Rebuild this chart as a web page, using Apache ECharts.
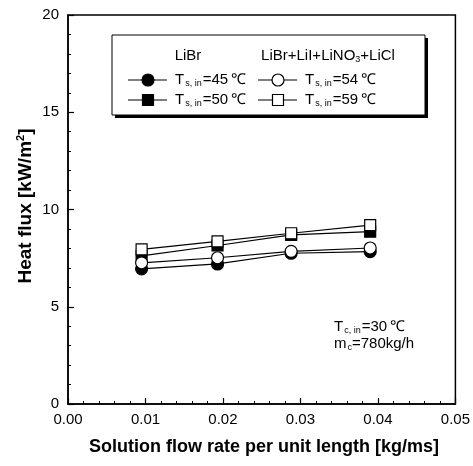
<!DOCTYPE html>
<html>
<head>
<meta charset="utf-8">
<script src="https://cdn.jsdelivr.net/npm/echarts@6/dist/echarts.min.js"></script>
<style>html,body{margin:0;padding:0;background:#fff}#c{width:473px;height:466px}</style>
</head>
<body>
<div id="c"></div>
<script>
const xValues = [0.0095, 0.0193, 0.0288, 0.039];
const libr45 = [6.95, 7.2, 7.75, 7.83];
const libr50 = [7.62, 8.15, 8.7, 8.86];
const mix54 = [7.26, 7.52, 7.85, 8.02];
const mix59 = [7.95, 8.36, 8.78, 9.2];
const xTicks = [0, 0.01, 0.02, 0.03, 0.04, 0.05];
const yTicks = [0, 5, 10, 15, 20];

const FONT = '"Liberation Sans", Arial, sans-serif';
const chart = echarts.init(document.getElementById('c'), null, {renderer: 'canvas'});

function pairs(ys){ return xValues.map((x,i)=>[x, ys[i]]); }

function mkSeries(name, ys, symbol, filled, size){
  return {
    name, type: 'line', data: pairs(ys), symbol, symbolSize: size,
    showSymbol: true, animation: false,
    lineStyle: {color: '#000', width: 1.2},
    itemStyle: {color: filled ? '#000' : '#fff', borderColor: '#000', borderWidth: 1.2, opacity: 1}
  };
}

const sub = {fontSize: 9, padding: [8,1,0,1], fontFamily: FONT, fill: '#000'};
const base = {fontSize: 15, fontFamily: FONT, fill: '#000'};
const Z = 20;

function legendRow(x, y, symbol, filled, label){
  const items = [
    {type: 'line', z: Z, shape: {x1: x-20, y1: y, x2: x+19, y2: y}, style: {stroke: '#000', lineWidth: 1.2}}
  ];
  if (symbol === 'circle') {
    items.push({type: 'circle', z: Z+1, shape: {cx: x, cy: y, r: 6}, style: {fill: filled ? '#000' : '#fff', stroke: '#000', lineWidth: 1.2}});
  } else {
    items.push({type: 'rect', z: Z+1, shape: {x: x-5.5, y: y-5.5, width: 11, height: 11}, style: {fill: filled ? '#000' : '#fff', stroke: '#000', lineWidth: 1.2}});
  }
  items.push({type: 'text', z: Z, x: x+27, y: y, style: {
    text: '{a|T}{s|s, in}{a|=' + label + '\u2009℃}', verticalAlign: 'middle', align: 'left',
    rich: {a: base, s: sub}
  }});
  return items;
}

const option = {
  animation: false,
  grid: {left: 68, right: 15, top: 15, bottom: 62, show: true, borderColor: '#000', borderWidth: 1.5, backgroundColor: 'transparent'},
  xAxis: {
    type: 'value', min: 0, max: 0.05, interval: 0.01,
    axisLine: {show: true, lineStyle: {color: '#000', width: 1.5}},
    axisTick: {show: true, inside: true, length: 6, lineStyle: {color: '#000', width: 1.2}},
    minorTick: {show: true, splitNumber: 5, length: 3, lineStyle: {color: '#000', width: 1}},
    splitLine: {show: false},
    axisLabel: {color: '#000', fontSize: 15, fontFamily: FONT, margin: 8, formatter: v => v.toFixed(2)}
  },
  yAxis: {
    type: 'value', min: 0, max: 20, interval: 5,
    axisLine: {show: true, lineStyle: {color: '#000', width: 1.5}},
    axisTick: {show: true, inside: true, length: 6, lineStyle: {color: '#000', width: 1.2}},
    minorTick: {show: true, splitNumber: 5, length: 3, lineStyle: {color: '#000', width: 1}},
    splitLine: {show: false},
    axisLabel: {color: '#000', fontSize: 15, fontFamily: FONT, margin: 9}
  },
  series: [
    mkSeries('LiBr 45', libr45, 'circle', true, 12),
    mkSeries('LiBr 50', libr50, 'rect', true, 11),
    mkSeries('Mix 54', mix54, 'circle', false, 12),
    mkSeries('Mix 59', mix59, 'rect', false, 11)
  ],
  graphic: [
    {type: 'text', x: 26, y: 206, rotation: Math.PI/2, style: {
      text: '{a|Heat flux [kW/m}{p|2}{a|]}', align: 'center', verticalAlign: 'middle',
      rich: {a: {fontSize: 19, fontWeight: 'bold', fontFamily: FONT, fill: '#000'},
             p: {fontSize: 11, fontWeight: 'bold', fontFamily: FONT, fill: '#000', padding: [0,0,10,0]}}
    }},
    {type: 'text', x: 264, y: 447, style: {
      text: 'Solution flow rate per unit length [kg/ms]', align: 'center', verticalAlign: 'middle',
      fontSize: 18, fontWeight: 'bold', fontFamily: FONT, fill: '#000'
    }},
    {type: 'rect', z: 10, shape: {x: 115, y: 38, width: 313, height: 80}, style: {fill: '#000'}},
    {type: 'rect', z: 11, shape: {x: 112, y: 35, width: 313, height: 80}, style: {fill: '#fff', stroke: '#000', lineWidth: 1}},
    {type: 'text', z: Z, x: 188, y: 56, style: {text: 'LiBr', align: 'center', verticalAlign: 'middle', fontSize: 15, fontFamily: FONT, fill: '#000'}},
    {type: 'text', z: Z, x: 328, y: 56, style: {text: '{a|LiBr+LiI+LiNO}{s|3}{a|+LiCl}', align: 'center', verticalAlign: 'middle', rich: {a: base, s: {fontSize: 9, padding: [8,0,0,0], fontFamily: FONT, fill: '#000'}}}},
    ...legendRow(148, 80, 'circle', true, '45'),
    ...legendRow(148, 100, 'rect', true, '50'),
    ...legendRow(278, 80, 'circle', false, '54'),
    ...legendRow(278, 100, 'rect', false, '59'),
    {type: 'text', x: 334, y: 327, style: {text: '{a|T}{s|c, in}{a|=30\u2009℃}', verticalAlign: 'middle', rich: {a: base, s: sub}}},
    {type: 'text', x: 334, y: 344, style: {text: '{a|m}{s|c}{a|=780kg/h}', verticalAlign: 'middle', rich: {a: base, s: {fontSize: 9, padding: [8,0,0,1], fontFamily: FONT, fill: '#000'}}}}
  ]
};
chart.setOption(option);
</script>
</body>
</html>
